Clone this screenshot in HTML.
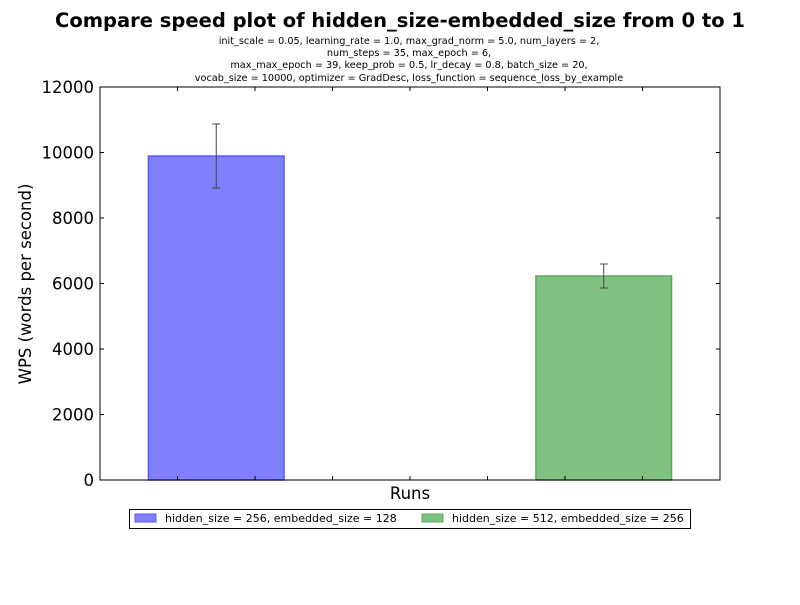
<!DOCTYPE html>
<html><head><meta charset="utf-8"><style>
body{margin:0;background:#fff;}
svg text{font-family:"DejaVu Sans","Liberation Sans",sans-serif;}
</style></head><body>
<svg id="chart" width="800" height="600" xmlns="http://www.w3.org/2000/svg">
<rect width="800" height="600" fill="#fff"/>
<text x="400" y="27" text-anchor="middle" font-size="19.5" font-weight="bold">Compare speed plot of hidden_size-embedded_size from 0 to 1</text>
<g font-size="9.7" text-anchor="middle">
<text x="409" y="44">init_scale = 0.05, learning_rate = 1.0, max_grad_norm = 5.0, num_layers = 2,</text>
<text x="409" y="56">num_steps = 35, max_epoch = 6,</text>
<text x="409" y="68">max_max_epoch = 39, keep_prob = 0.5, lr_decay = 0.8, batch_size = 20,</text>
<text x="409" y="81">vocab_size = 10000, optimizer = GradDesc, loss_function = sequence_loss_by_example</text>
</g>
<g id="bars"></g>
<g id="axes"></g>
<text x="410" y="499" text-anchor="middle" font-size="16.5">Runs</text>
<text transform="translate(31,284) rotate(-90)" text-anchor="middle" font-size="16.5">WPS (words per second)</text>
<g>
<rect x="129.5" y="509.5" width="561" height="19" fill="#fff" stroke="#000"/>
<g><rect x="135" y="514" width="21" height="8" fill="#8080ff" stroke="#5a5aff"/><text x="165" y="522" font-size="11">hidden_size = 256, embedded_size = 128</text></g>
<g><rect x="422" y="514" width="21" height="8" fill="#80c080" stroke="#5aaa5a"/><text x="452" y="522" font-size="11">hidden_size = 512, embedded_size = 256</text></g>
</g>
</svg>
<script>
const categories=["hidden_size = 256, embedded_size = 128","hidden_size = 512, embedded_size = 256"];
const positions=[1.5,6.5];
const values=[9893,6229];
const errLow=[8916,5863];
const errHigh=[10870,6595];
const yTicks=[0,2000,4000,6000,8000,10000,12000];
const xTicks=[1,2,3,4,5,6,7];
const fills=["#8080ff","#80c080"],strokes=["#5a5aff","#5aaa5a"];
const L=100,R=720,T=87,B=480;
const x=v=>L+(v/8)*(R-L);
const y=v=>B-(v/12000)*(B-T);
const NS="http://www.w3.org/2000/svg";
function mk(tag,attrs,parent){const e=document.createElementNS(NS,tag);for(const k in attrs)e.setAttribute(k,attrs[k]);parent.appendChild(e);return e;}
const bars=document.getElementById('bars'),axes=document.getElementById('axes');
values.forEach((v,i)=>{
  const w=1.75;
  const r=mk('rect',{x:x(positions[i]-w/2),y:y(v),width:x(w)-x(0),height:y(0)-y(v),fill:fills[i],stroke:strokes[i],'stroke-width':1.5},bars);
  
  
  const cx=x(positions[i]);
  const g=mk('g',{stroke:'#444','stroke-width':1},bars);
  
  
  mk('line',{x1:cx,x2:cx,y1:y(errLow[i]),y2:y(errHigh[i])},g);
  mk('line',{x1:cx-4,x2:cx+4,y1:y(errLow[i]),y2:y(errLow[i])},g);
  mk('line',{x1:cx-4,x2:cx+4,y1:y(errHigh[i]),y2:y(errHigh[i])},g);
});
const frame=mk('rect',{x:L,y:T,width:R-L,height:B-T,fill:'none',stroke:'#000','stroke-width':1},axes);


yTicks.forEach(t=>{
  const yy=y(t);
  mk('line',{x1:L,x2:L+4,y1:yy,y2:yy,stroke:'#000'},axes);
  mk('line',{x1:R,x2:R-4,y1:yy,y2:yy,stroke:'#000'},axes);
  const tx=mk('text',{x:L-6,y:yy+6,'text-anchor':'end','font-size':16.5},axes);
  tx.textContent=t;
  
  
});
xTicks.forEach(t=>{
  const xx=x(t);
  mk('line',{x1:xx,x2:xx,y1:B,y2:B-4,stroke:'#000'},axes);
  mk('line',{x1:xx,x2:xx,y1:T,y2:T+4,stroke:'#000'},axes);
});
</script>
</body></html>
